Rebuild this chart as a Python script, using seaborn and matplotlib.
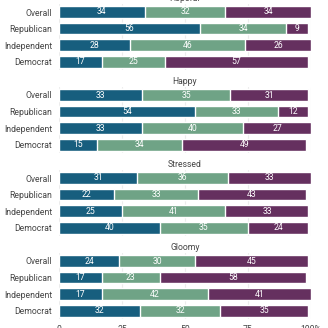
import numpy as np
import pandas as pd
import matplotlib
matplotlib.use("Agg")
import matplotlib.pyplot as plt
import seaborn as sns

feelings = ["Hopeful", "Happy", "Stressed", "Gloomy"]
groups = ["Overall", "Republican", "Independent", "Democrat"]
answers = ["More", "Same", "Less"]

hopeful = [[34, 32, 34], [56, 34, 9], [28, 46, 26], [17, 25, 57]]
happy = [[33, 35, 31], [54, 33, 12], [33, 40, 27], [15, 34, 49]]
stressed = [[31, 36, 33], [22, 33, 43], [25, 41, 33], [40, 35, 24]]
gloomy = [[24, 30, 45], [17, 23, 58], [17, 42, 41], [32, 32, 35]]
values = [hopeful, happy, stressed, gloomy]

colors = ["#175e7e", "#6fa386", "#65305f"]
tick_vals = [0, 25, 50, 75, 100]
tick_labels = ["0", "25", "50", "75", "100%"]

sns.set_theme(style="white")
plt.rcParams["font.family"] = ["Roboto", "DejaVu Sans"]

fig = plt.figure(figsize=(3.28, 3.28), dpi=100)
W, H = 328, 328
left_px, right_px = 59, 311
row_px = 16.6
tops = [3.7, 86.7, 169.7, 252.7]
fs = 6.2

for k, (name, vals) in enumerate(zip(feelings, values)):
    top = tops[k]
    ax = fig.add_axes([left_px / W, 1 - (top + 4 * row_px) / H,
                       (right_px - left_px) / W, 4 * row_px / H])
    arr = np.array(vals, dtype=float)
    cum = np.cumsum(arr, axis=1)
    # stacked bars: draw cumulative totals from the outermost segment inward
    for j in range(2, -1, -1):
        df = pd.DataFrame({"group": groups, "value": cum[:, j]})
        sns.barplot(data=df, x="value", y="group", color=colors[j],
                    orient="h", width=0.7, saturation=1, ax=ax)
    for i in range(len(groups)):
        start = 0
        for j in range(3):
            v = arr[i, j]
            ax.text(start + v / 2, i, f"{int(v)}", ha="center", va="center",
                    color="white", fontsize=fs)
            start += v
    ax.set_xlim(0, 100)
    ax.set_ylim(3.5, -0.5)
    ax.set_xlabel("")
    ax.set_ylabel("")
    ax.set_xticks(tick_vals)
    ax.grid(axis="x", color="#ececec", linewidth=0.8)
    ax.set_axisbelow(True)
    for s in ax.spines.values():
        s.set_visible(False)
    ax.tick_params(axis="y", length=0, pad=5, labelsize=fs, labelcolor="#444444")
    if k == 3:
        ax.set_xticklabels(tick_labels)
        ax.tick_params(axis="x", length=0, pad=4, labelsize=fs, labelcolor="#444444")
    else:
        ax.tick_params(axis="x", length=0, labelbottom=False)
    ax.set_title(name, fontsize=fs, color="#444444", pad=2)

fig.savefig("out.png", dpi=100)
